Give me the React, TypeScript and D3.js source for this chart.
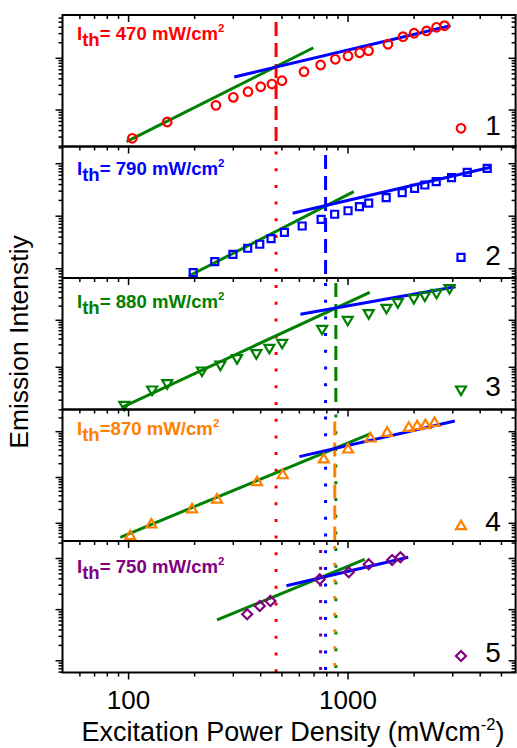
import React from "react";
import * as d3 from "d3";

const W = 517;
const H = 748;

// ---------- data ----------
const p1Power = [104, 150, 250, 300, 350, 400, 450, 500, 630, 750, 875, 1000, 1130, 1240, 1520, 1780, 2000, 2280, 2530, 2750];
const p1Int = [0.284, 0.586, 1.23, 1.76, 2.26, 2.82, 3.18, 3.69, 5.51, 7.42, 9.57, 11.1, 12.8, 14.0, 18.7, 26.2, 30.5, 33.8, 39.8, 42.8];

const p2Power = [197, 247, 299, 349, 396, 446, 513, 618, 754, 869, 1000, 1127, 1242, 1492, 1765, 2010, 2238, 2522, 2962, 3492, 4306];
const p2Int = [0.839, 1.36, 1.88, 2.45, 2.92, 3.73, 4.93, 6.51, 8.73, 10.9, 12.7, 15.2, 17.8, 22.5, 28.0, 34.0, 39.3, 45.4, 54.1, 68.6, 81.7];

const p3Power = [95.6, 128, 150, 216, 262, 312, 382, 438, 501, 762, 997, 1242, 1496, 1685, 1994, 2238, 2530, 2900];
const p3Int = [0.15, 0.318, 0.435, 0.806, 1.07, 1.48, 1.89, 2.45, 3.13, 6.22, 9.66, 13.4, 17.4, 23.0, 28.0, 31.8, 36.3, 45.7];

const p4Power = [101.8, 127, 194.6, 253, 385, 504, 775, 1000, 1265, 1507, 1891, 2066, 2253, 2477];
const p4Int = [0.555, 1.0, 2.13, 3.51, 8.39, 11.9, 26.3, 43.4, 75.5, 100, 129, 140, 147, 165];

const p5Power = [347, 396, 443, 743, 1007, 1242, 1588, 1733];
const p5Int = [8.11, 11.8, 14.8, 39.2, 53.7, 77.1, 93.5, 105.5];

const greenFitPower = [[97.9, 695], [188, 1062], [93.3, 1256], [91.7, 1275], [253, 1191]];
const greenFitInt = [[0.244, 16.0], [0.726, 29.3], [0.141, 39.4], [0.495, 92.3], [6.28, 96.5]];
const blueFitPower = [[303, 2930], [559, 4460], [607, 3090], [600, 3066], [524, 1880]];
const blueFitInt = [[4.35, 42.7], [11.4, 85.4], [13.4, 51.9], [28.5, 171], [29.4, 105.5]];

const thresholds = [470, 790, 880, 870, 750];
const thresholdText = ["= 470 mW/cm", "= 790 mW/cm", "= 880 mW/cm", "=870 mW/cm", "= 750 mW/cm"];
const panelNames = ["1", "2", "3", "4", "5"];
const yDomains = [[0.197, 68.8], [0.665, 212.6], [0.1265, 79.4], [0.411, 305], [0.59, 219.8]];

const xDomain = [50, 5800];
const xMajorTicks = [100, 1000];
const xTickLabels = ["100", "1000"];
const xTitle = "Excitation Power Density (mWcm";
const yTitle = "Emission Intenstiy";

// ---------- styles / layout ----------
const colors = ["#ff0000", "#0000ff", "#008000", "#ff8000", "#800080"];
const GREEN = "#008000";
const BLUE = "#0000ff";
const symbols = ["circle", "square", "triDown", "triUp", "diamond"];
const powers = [p1Power, p2Power, p3Power, p4Power, p5Power];
const ints = [p1Int, p2Int, p3Int, p4Int, p5Int];

const X0 = 62.5;
const X1 = 515.6;
const TOP = 15;
const PH = 131.5;
const annotBase = [25, 28, 30, 25.5, 31.5];
const legendOff = [18.2, 20.7, 18.8, 16, 16.5];
const numOff = [11.5, 13, 13.5, 10.5, 11];
const dashStart = [7, 8.5, 5, 12, 9];
const FONT = "'Liberation Sans', Arial, sans-serif";

function markerPath(kind: string): string {
  if (kind === "circle") {
    const r = 4.3;
    return `M${r},0A${r},${r},0,1,1,${-r},0A${r},${r},0,1,1,${r},0Z`;
  }
  if (kind === "square") {
    const h = 3.5;
    return `M${-h},${-h}L${h},${-h}L${h},${h}L${-h},${h}Z`;
  }
  if (kind === "triDown") {
    return "M-5,-4.2L5,-4.2L0,4.4Z";
  }
  if (kind === "triUp") {
    return "M-5,4.2L5,4.2L0,-4.4Z";
  }
  const d = 5;
  return `M0,${-d}L${d},0L0,${d}L${-d},0Z`;
}

function logTicks(lo: number, hi: number) {
  const out: { v: number; major: boolean }[] = [];
  for (let e = Math.floor(Math.log10(lo)) - 1; e <= Math.ceil(Math.log10(hi)); e++) {
    for (let k = 1; k <= 9; k++) {
      const v = k * Math.pow(10, e);
      if (v >= lo * 1.0001 && v <= hi * 0.9999) out.push({ v, major: k === 1 });
    }
  }
  return out;
}

export default function App() {
  const x = d3.scaleLog().domain(xDomain).range([X0, X1]);
  const panelTop = (i: number) => TOP + i * PH;
  const yScales = yDomains.map((dm, i) =>
    d3.scaleLog().domain(dm).range([panelTop(i) + PH, panelTop(i)])
  );
  const xTicks = logTicks(xDomain[0], xDomain[1]);
  const bottom = TOP + 5 * PH;
  const line = d3.line<[number, number]>();

  const elements: React.ReactNode[] = [];

  // vertical threshold lines
  thresholds.forEach((t, i) => {
    const xv = x(t);
    const top = panelTop(i);
    if (i < 4) {
      elements.push(
        <line key={`vd${i}`} x1={xv} x2={xv} y1={top + dashStart[i]} y2={top + PH}
          stroke={colors[i]} strokeWidth={3} strokeDasharray="14 7" />
      );
      elements.push(
        <line key={`vt${i}`} x1={xv} x2={xv} y1={top + PH + 5} y2={bottom}
          stroke={colors[i]} strokeWidth={3} strokeDasharray="3 13.7" />
      );
    } else {
      elements.push(
        <line key={`vt${i}`} x1={xv} x2={xv} y1={top + dashStart[i]} y2={bottom}
          stroke={colors[i]} strokeWidth={3} strokeDasharray="3 13.7" />
      );
    }
  });

  // fits and data
  for (let i = 0; i < 5; i++) {
    const y = yScales[i];
    const g: [number, number][] = [
      [x(greenFitPower[i][0]), y(greenFitInt[i][0])],
      [x(greenFitPower[i][1]), y(greenFitInt[i][1])],
    ];
    const b: [number, number][] = [
      [x(blueFitPower[i][0]), y(blueFitInt[i][0])],
      [x(blueFitPower[i][1]), y(blueFitInt[i][1])],
    ];
    elements.push(<path key={`g${i}`} d={line(g) || ""} stroke={GREEN} strokeWidth={3} fill="none" />);
    elements.push(<path key={`b${i}`} d={line(b) || ""} stroke={BLUE} strokeWidth={3} fill="none" />);
    const mp = markerPath(symbols[i]);
    powers[i].forEach((p, j) => {
      elements.push(
        <path key={`m${i}-${j}`} d={mp} transform={`translate(${x(p)},${y(ints[i][j])})`}
          fill="none" stroke={colors[i]} strokeWidth={2.2} />
      );
    });
    const pb = panelTop(i) + PH;
    elements.push(
      <path key={`lg${i}`} d={mp} transform={`translate(461,${pb - legendOff[i]})`}
        fill="none" stroke={colors[i]} strokeWidth={2.2} />
    );
    elements.push(
      <text key={`ln${i}`} x={493} y={pb - numOff[i]} textAnchor="middle" fontSize={28}
        fontFamily={FONT} fill="#000">{panelNames[i]}</text>
    );
    const by = panelTop(i) + annotBase[i];
    elements.push(
      <text key={`an${i}`} x={77} y={by} fontSize={18.6} fontWeight="bold" fontFamily={FONT} fill={colors[i]}>
        <tspan>I</tspan>
        <tspan dy={6}>th</tspan>
        <tspan dy={-6}>{thresholdText[i]}</tspan>
        <tspan dy={-8} fontSize={11.5}>2</tspan>
      </text>
    );
  }

  // y ticks per panel
  for (let i = 0; i < 5; i++) {
    const y = yScales[i];
    logTicks(yDomains[i][0], yDomains[i][1]).forEach((t, j) => {
      const yy = y(t.v);
      const len = t.major ? 7 : 4;
      elements.push(<line key={`yl${i}-${j}`} x1={X0} x2={X0 - len} y1={yy} y2={yy} stroke="#000" strokeWidth={1.5} />);
      elements.push(<line key={`yr${i}-${j}`} x1={X1} x2={X1 - len} y1={yy} y2={yy} stroke="#000" strokeWidth={1.5} />);
    });
  }

  // x ticks on every horizontal line (pointing down)
  for (let i = 0; i <= 5; i++) {
    const yy = panelTop(i);
    xTicks.forEach((t, j) => {
      const xx = x(t.v);
      const len = t.major ? 7 : 4;
      elements.push(<line key={`xt${i}-${j}`} x1={xx} x2={xx} y1={yy} y2={yy + len} stroke="#000" strokeWidth={1.5} />);
    });
  }

  // frames
  for (let i = 0; i < 5; i++) {
    elements.push(
      <rect key={`fr${i}`} x={X0} y={panelTop(i)} width={X1 - X0} height={PH} fill="none" stroke="#000" strokeWidth={2} />
    );
  }

  // tick labels
  xMajorTicks.forEach((v, k) => {
    elements.push(
      <text key={`xl${k}`} x={x(v)} y={709} textAnchor="middle" fontSize={26} fontFamily={FONT} fill="#000">{xTickLabels[k]}</text>
    );
  });

  return (
    <svg width={W} height={H} style={{ position: "absolute", left: 0, top: 0, background: "#fff" }}>
      <rect x={0} y={0} width={W} height={H} fill="#fff" />
      {elements}
      <text x={293} y={741} textAnchor="middle" fontSize={27} fontFamily={FONT} fill="#000">
        {xTitle}
        <tspan dy={-11} fontSize={16.5}>-2</tspan>
        <tspan dy={11}>)</tspan>
      </text>
      <text transform="translate(28,342) rotate(-90)" textAnchor="middle" fontSize={26.5} fontFamily={FONT} fill="#000">
        {yTitle}
      </text>
    </svg>
  );
}
